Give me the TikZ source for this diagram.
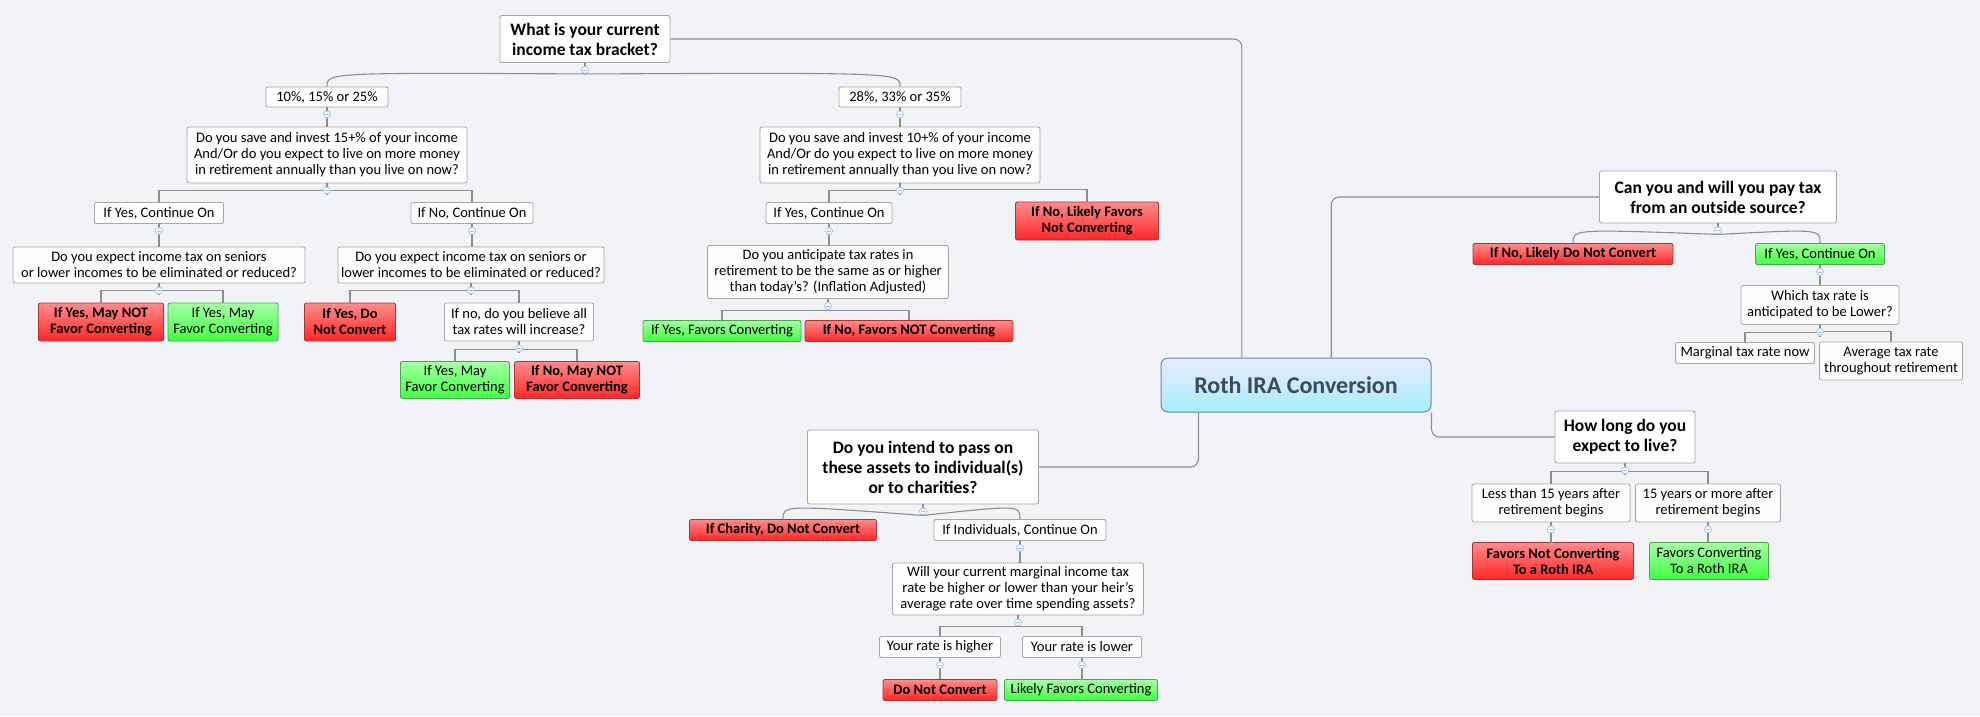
\documentclass[tikz,border=0pt]{standalone}
\usepackage{fontspec}
\setmainfont{Carlito}
\usetikzlibrary{calc}
\definecolor{bg}{HTML}{F2F3F7}
\definecolor{ln}{HTML}{8E8E8E}
\definecolor{bd}{HTML}{A8A8A8}
\definecolor{mk}{HTML}{9DBFE6}
\definecolor{rt}{HTML}{3F4A57}
\newcommand\nf{\fontsize{14.5}{16}\selectfont}
\newcommand\hf{\fontsize{17.5}{20}\selectfont\bfseries}
\tikzset{
 base/.style={rounded corners=2pt,align=center,inner sep=1pt,font=\nf,line width=0.9pt},
 plain/.style={base,draw=bd,fill=white!93!bg},
 head/.style={base,draw=bd,fill=white,font=\hf},
 redb/.style={base,draw=red!60!black!80,top color=red!45!white,bottom color=red!85!white,font=\nf\bfseries},
 grnb/.style={base,draw=green!50!black!70,top color=green!35!white,bottom color=green!75!white},
 conn/.style={draw=ln,line width=1.1pt},
 mkdot/.style={circle,draw=mk,fill=white,inner sep=0pt,minimum size=7pt,line width=0.7pt},
}
\newcommand\mkr[1]{\node[mkdot] at ($(#1.south)+(0,7)$) {};\draw[mk,line width=0.6pt] ($(#1.south)+(-1.8,7)$)--++(3.6,0);}
\newcommand\kids[3]{\draw[conn] (#1.south)--++(0,12);
 \foreach \c in {#3}{\draw[conn] ($(#1.south)+(0,10)$) |- ($(\c.north)+(0,-#2)$) -- (\c.north);}
 \mkr{#1}}
\newcommand\ckids[3]{\draw[conn] (#1.south)--++(0,11);
 \foreach \c in {#3}{\draw[conn] ($(#1.south)+(0,11)$) .. controls ($(\c.north)+(0,-#2)$) .. (\c.north);}
 \mkr{#1}}
\begin{document}
\begin{tikzpicture}[x=1pt,y=-1pt]
\fill[bg] (0,0) rectangle (1980,716);
\useasboundingbox (0,0) rectangle (1980,716);
% nodes
\node[head,minimum width=170,minimum height=47] (q1) at (585,39) {What is your current\\income tax bracket?};
\node[plain,minimum width=122,minimum height=20] (b1) at (327,97) {10\%, 15\% or 25\%};
\node[plain,minimum width=122,minimum height=20] (b2) at (900,97) {28\%, 33\% or 35\%};
\node[plain,minimum width=280,minimum height=56] (q2) at (327,155) {Do you save and invest 15+\% of your income\\And/Or do you expect to live on more money\\in retirement annually than you live on now?};
\node[plain,minimum width=280,minimum height=56] (q3) at (900,155) {Do you save and invest 10+\% of your income\\And/Or do you expect to live on more money\\in retirement annually than you live on now?};
\node[plain,minimum width=129,minimum height=21] (y1) at (159,213) {If Yes, Continue On};
\node[plain,minimum width=122,minimum height=21] (n1) at (472,213) {If No, Continue On};
\node[plain,minimum width=292,minimum height=36] (q4) at (159,265) {Do you expect income tax on seniors\\or lower incomes to be eliminated or reduced?};
\node[plain,minimum width=266,minimum height=36] (q5) at (471,265) {Do you expect income tax on seniors or\\lower incomes to be eliminated or reduced?};
\node[redb,minimum width=125,minimum height=38] (l1) at (101,322) {If Yes, May NOT\\Favor Converting};
\node[grnb,minimum width=110,minimum height=38] (l2) at (223,322) {If Yes, May\\Favor Converting};
\node[redb,minimum width=91,minimum height=38] (l3) at (350,322) {If Yes, Do\\Not Convert};
\node[plain,minimum width=149,minimum height=38] (q6) at (519,322) {If no, do you believe all\\tax rates will increase?};
\node[grnb,minimum width=109,minimum height=37] (l4) at (455,380) {If Yes, May\\Favor Converting};
\node[redb,minimum width=125,minimum height=37] (l5) at (577,380) {If No, May NOT\\Favor Converting};
\node[plain,minimum width=126,minimum height=21] (y2) at (829,213) {If Yes, Continue On};
\node[redb,minimum width=143,minimum height=38] (l6) at (1087,221) {If No, Likely Favors\\Not Converting};
\node[plain,minimum width=241,minimum height=53] (q7) at (828,272) {Do you anticipate tax rates in\\retirement to be the same as or higher\\than today's? (Inflation Adjusted)};
\node[grnb,minimum width=158,minimum height=21] (l7) at (722,331) {If Yes, Favors Converting};
\node[redb,minimum width=208,minimum height=21] (l8) at (909,331) {If No, Favors NOT Converting};
\node[draw=mk!70!black,line width=1pt,rounded corners=7pt,top color=blue!8!white,bottom color=blue!20!cyan!35!white,text=rt,font=\fontsize{24}{28}\selectfont\bfseries,minimum width=270,minimum height=54] (root) at (1296,385) {Roth IRA Conversion};
\node[head,minimum width=237,minimum height=52] (q8) at (1718,197) {Can you and will you pay tax\\from an outside source?};
\node[redb,minimum width=200,minimum height=21] (l9) at (1573,254) {If No, Likely Do Not Convert};
\node[grnb,minimum width=129,minimum height=21] (y3) at (1820,254) {If Yes, Continue On};
\node[plain,minimum width=158,minimum height=39] (q9) at (1820,305) {Which tax rate is\\anticipated to be Lower?};
\node[plain,minimum width=139,minimum height=21] (m1) at (1745,353) {Marginal tax rate now};
\node[plain,minimum width=143,minimum height=38] (m2) at (1891,361) {Average tax rate\\throughout retirement};
\node[head,minimum width=140,minimum height=52] (q10) at (1625,437) {How long do you\\expect to live?};
\node[plain,minimum width=158,minimum height=38] (t1) at (1551,503) {Less than 15 years after\\retirement begins};
\node[plain,minimum width=145,minimum height=38] (t2) at (1708,503) {15 years or more after\\retirement begins};
\node[redb,minimum width=161,minimum height=37] (l10) at (1553,561) {Favors Not Converting\\To a Roth IRA};
\node[grnb,minimum width=119,minimum height=37] (l11) at (1709,561) {Favors Converting\\To a Roth IRA};
\node[head,minimum width=231,minimum height=74] (q11) at (923,467) {Do you intend to pass on\\these assets to individual(s)\\or to charities?};
\node[redb,minimum width=187,minimum height=21] (l12) at (783,530) {If Charity, Do Not Convert};
\node[plain,minimum width=172,minimum height=21] (i1) at (1020,530) {If Individuals, Continue On};
\node[plain,minimum width=251,minimum height=52] (q12) at (1018,589) {Will your current marginal income tax\\rate be higher or lower than your heir's\\average rate over time spending assets?};
\node[plain,minimum width=121,minimum height=21] (r1) at (940,647) {Your rate is higher};
\node[plain,minimum width=119,minimum height=21] (r2) at (1082,647) {Your rate is lower};
\node[redb,minimum width=114,minimum height=21] (l13) at (940,690) {Do Not Convert};
\node[grnb,minimum width=153,minimum height=21] (l14) at (1081,690) {Likely Favors Converting};
% root connectors
\draw[conn,rounded corners=8pt] ($(root.north west)!0.3!(root.north east)$) |- (q1.east);
\draw[conn,rounded corners=8pt] ($(root.north west)!0.63!(root.north east)$) |- (q8.west);
\draw[conn,rounded corners=8pt] (root.south east) |- (q10.west);
\draw[conn,rounded corners=8pt] ($(root.south west)!0.14!(root.south east)$) |- (q11.east);
% trees
\ckids{q1}{14}{b1,b2}
\kids{b1}{0}{q2}
\kids{b2}{0}{q3}
\kids{q2}{12}{y1,n1}
\kids{q3}{12}{y2,l6}
\kids{y1}{0}{q4}
\kids{n1}{0}{q5}
\kids{q4}{12}{l1,l2}
\kids{q5}{12}{l3,q6}
\kids{q6}{12}{l4,l5}
\kids{y2}{0}{q7}
\kids{q7}{10}{l7,l8}
\ckids{q8}{14}{l9,y3}
\kids{y3}{0}{q9}
\kids{q9}{10}{m1,m2}
\kids{q10}{12}{t1,t2}
\kids{t1}{0}{l10}
\kids{t2}{0}{l11}
\ckids{q11}{14}{l12,i1}
\kids{i1}{0}{q12}
\kids{q12}{10}{r1,r2}
\kids{r1}{0}{l13}
\kids{r2}{0}{l14}
\end{tikzpicture}
\end{document}
